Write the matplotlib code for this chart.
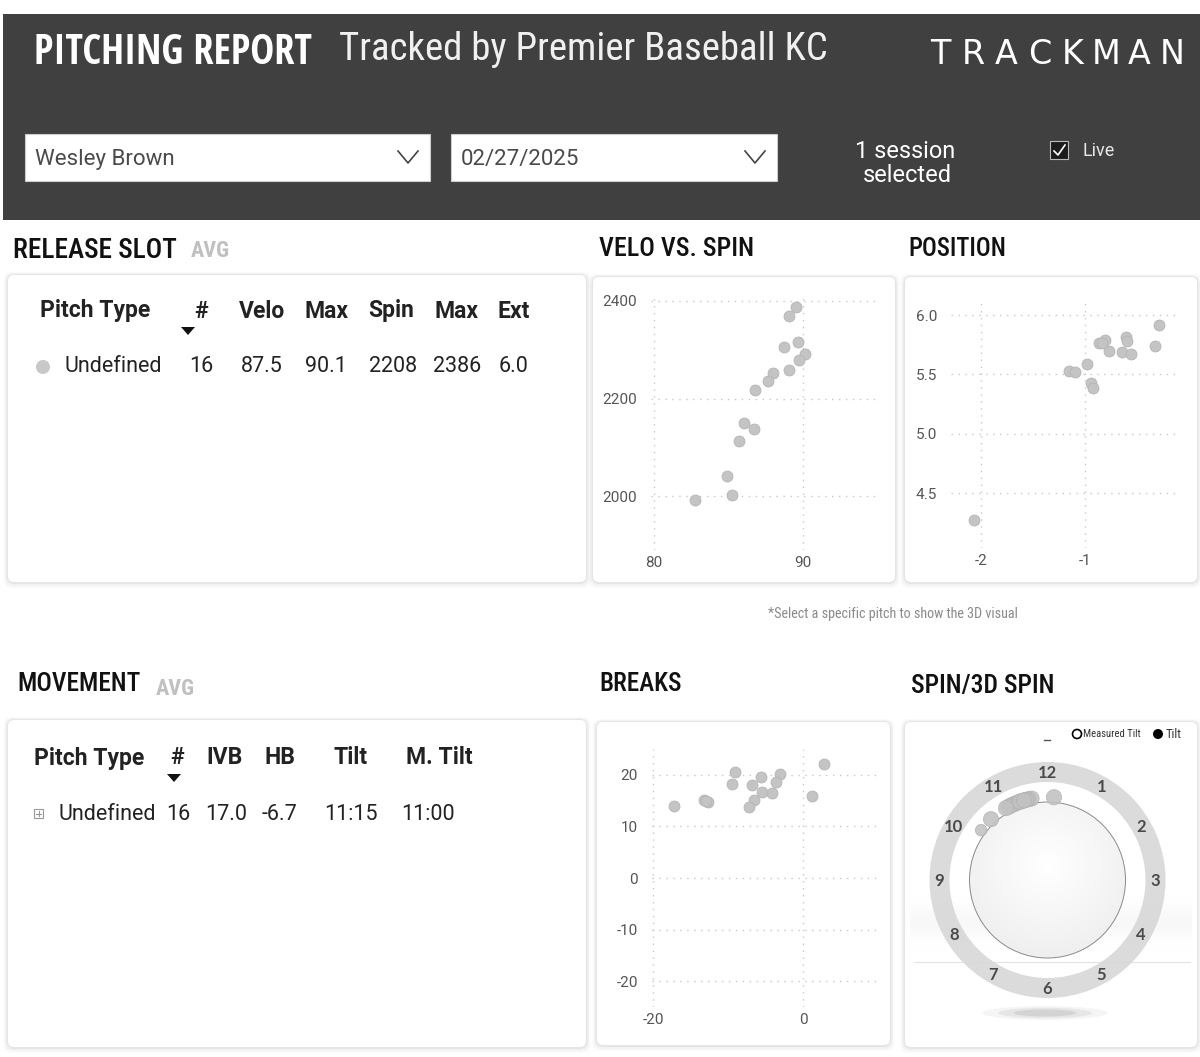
import numpy as np
import matplotlib
matplotlib.use('Agg')
import matplotlib.pyplot as plt
from matplotlib import font_manager as fm
from matplotlib.patches import Rectangle, FancyBboxPatch, Circle, Wedge, Ellipse, Polygon

plt.rcParams['axes.unicode_minus'] = False

W, H = 1200, 1057

# ---- data ----
player = 'Wesley Brown'
session_date = '02/27/2025'

release_cols = ['#', 'Velo', 'Max', 'Spin', 'Max', 'Ext']
release_row = ['16', '87.5', '90.1', '2208', '2386', '6.0']
movement_cols = ['#', 'IVB', 'HB', 'Tilt', 'M. Tilt']
movement_row = ['16', '17.0', '-6.7', '11:15', '11:00']

# velo vs spin
velo = [89.55, 89.1, 89.66, 88.74, 90.16, 89.78, 89.06, 88.0, 87.67, 86.79,
        86.08, 86.70, 85.70, 84.89, 85.25, 82.78]
spin = [2387, 2369, 2315, 2305, 2292, 2279, 2259, 2253, 2235, 2218,
        2150, 2137, 2113, 2042, 2003, 1992]

# release position (side, height)
rel_side = [-0.292, -0.333, -0.612, -0.603, -0.647, -0.558, -0.811, -0.865,
            -0.843, -0.772, -0.981, -1.154, -1.103, -0.946, -0.926, -2.067]
rel_height = [5.916, 5.737, 5.818, 5.782, 5.687, 5.675, 5.793, 5.765,
              5.762, 5.695, 5.589, 5.527, 5.519, 5.426, 5.387, 4.273]

# breaks (HB, IVB)
hb = [2.8, 1.16, -3.16, -3.69, -4.22, -5.6, -5.51, -6.8, -6.62, -7.29,
      -9.11, -9.51, -13.29, -12.76, -17.2, -13.0]
ivb = [22.07, 15.86, 20.13, 18.64, 16.50, 19.6, 16.76, 18.06, 15.21, 13.72,
       20.52, 18.19, 15.02, 14.69, 13.92, 14.85]

# spin tilt as clock time (hours)
tilt_hours = [12.15, 11.63, 11.55, 11.43, 11.38, 11.3, 11.23, 11.18, 11.12,
              11.07, 11.0, 11.5, 11.35, 11.45, 10.57, 10.23]

UI = ['Roboto', 'DejaVu Sans']

# candidate latin sans faces, split by weight
BASES = ('DejaVu Sans', 'Liberation Sans', 'Noto Sans', 'Roboto', 'Open Sans', 'Lato', 'Inter')


def ok_name(n):
    if n in BASES:
        return True
    return any(n.startswith(b) for b in BASES) and ('Condensed' in n or 'Narrow' in n)


def faces(lo, hi):
    out, seen = [], set()
    for f in fm.fontManager.ttflist:
        try:
            wt = int(f.weight)
        except (TypeError, ValueError):
            wt = 700 if 'bold' in str(f.weight) else 400
        if f.style == 'normal' and lo <= wt <= hi and ok_name(f.name) and f.fname not in seen:
            seen.add(f.fname)
            out.append(fm.FontProperties(fname=f.fname))
    return out


FACES = {'regular': faces(400, 400), 'medium': faces(500, 500), 'bold': faces(600, 800)}
if not FACES['regular']:
    FACES['regular'] = [fm.FontProperties(family='DejaVu Sans')]
if not FACES['medium']:
    FACES['medium'] = FACES['regular']
if not FACES['bold']:
    FACES['bold'] = [fm.FontProperties(family='DejaVu Sans', weight='bold')]

fig = plt.figure(figsize=(W / 100, H / 100), dpi=100)
fig.patch.set_facecolor('white')
bg = fig.add_axes([0, 0, 1, 1])
bg.set_xlim(0, W)
bg.set_ylim(H, 0)
bg.axis('off')
renderer = fig.canvas.get_renderer()


def fit_text(x, y, s, width, size, weight='regular', **kw):
    # pick the face whose natural width at this size is closest to the target width
    t = bg.text(x, y, s, **kw)
    best, bw = None, None
    for fp in FACES[weight]:
        t.set_fontproperties(fp)
        t.set_fontsize(size)
        w = t.get_window_extent(renderer).width
        if best is None or abs(w - width) < abs(bw - width):
            best, bw = fp, w
    t.set_fontproperties(best)
    t.set_fontsize(size * min(1.0, width / bw))
    return t


def pxaxes(l, t, r, b):
    return fig.add_axes([l / W, 1 - b / H, (r - l) / W, (b - t) / H])


def card(l, t, r, b):
    for k, a in zip([9, 6, 3], [0.02, 0.03, 0.05]):
        bg.add_patch(FancyBboxPatch((l - k / 2, t - k / 3), r - l + k, b - t + k,
                                    boxstyle='round,pad=0,rounding_size=8',
                                    fc='black', ec='none', alpha=a, zorder=1))
    bg.add_patch(FancyBboxPatch((l, t), r - l, b - t,
                                boxstyle='round,pad=0,rounding_size=6',
                                fc='white', ec='none', zorder=2))


# ---- header band ----
bg.add_patch(Rectangle((3, 14), W - 3, 206, fc='#404040', ec='none', zorder=1))
fit_text(34, 54, 'PITCHING REPORT', 279, 33, weight='bold', color='white', va='center',
         ha='left', zorder=3)
fit_text(339, 49, 'Tracked by Premier Baseball KC', 503, 28, color='#f0f0f0',
         va='center', ha='left', zorder=3)
for i, ch in enumerate('TRACKMAN'):
    bg.text(925 + 15 + i * 33.2, 54, ch, color='white', fontsize=24,
            family=['DejaVu Sans'], va='center', ha='center', zorder=3)

for (l, r), txt in zip([(25, 430), (451, 777)], [player, session_date]):
    bg.add_patch(Rectangle((l, 134), r - l, 47, fc='white', ec='#cccccc', lw=0.8, zorder=2))
    bg.text(l + 10, 160, txt, color='#4a4a4a', fontsize=16, family=UI,
            va='center', ha='left', zorder=3)
    bg.plot([r - 32, r - 22, r - 12], [151, 163, 151], color='#444444', lw=1.2, zorder=3)

bg.text(905, 151, '1 session', color='white', fontsize=17, family=UI,
        va='center', ha='center', zorder=3)
bg.text(907, 176, 'selected', color='white', fontsize=17, family=UI,
        va='center', ha='center', zorder=3)
bg.add_patch(Rectangle((1050, 141), 18, 18, fc='#1c1c1c', ec='#bbbbbb', lw=0.8, zorder=3))
bg.plot([1054, 1058, 1065], [151, 155, 145], color='white', lw=1.2, zorder=4)
bg.text(1082, 151, 'Live', color='#e8e8e8', fontsize=13, family=UI,
        va='center', ha='left', zorder=3)

# ---- cards ----
card(8, 275, 586, 582)
card(593, 277, 895, 582)
card(905, 277, 1197, 582)
card(8, 720, 586, 1047)
card(597, 722, 890, 1045)
card(905, 722, 1197, 1047)

# section titles (x, y, text, width in px)
titles = [(13, 251, 'RELEASE SLOT', 164), (599, 249, 'VELO VS. SPIN', 155),
          (908, 249, 'POSITION', 98), (17, 684, 'MOVEMENT', 123),
          (599, 684, 'BREAKS', 82), (911, 686, 'SPIN/3D SPIN', 144)]
for x, y, t, w in titles:
    fit_text(x, y, t, w, 28, weight='medium', color='#111111', va='center', ha='left', zorder=3)
fit_text(191, 251, 'AVG', 41, 16, weight='bold', color='#c0c0c0', va='center', ha='left', zorder=3)
fit_text(156, 689, 'AVG', 41, 16, weight='bold', color='#c0c0c0', va='center', ha='left', zorder=3)
fit_text(768, 614, '*Select a specific pitch to show the 3D visual', 250, 13,
         color='#8a8a8a', va='center', ha='left', zorder=3)

# ---- release slot table ----
bg.text(40, 311, 'Pitch Type', fontsize=16.5, fontweight='bold', family=UI,
        color='#222222', va='center', ha='left', zorder=3)
for cx, c in zip([201, 262, 326, 391, 456, 514], release_cols):
    bg.text(cx, 311, c, fontsize=16.5, fontweight='bold', family=UI, color='#222222',
            va='center', ha='center', zorder=3)
bg.add_patch(Polygon([(181, 327), (195, 327), (188, 335)], fc='#111111', ec='none', zorder=3))
bg.add_patch(Circle((43, 367), 7, fc='#c8c8c8', ec='none', zorder=3))
bg.text(64, 367, 'Undefined', fontsize=15.5, family=UI, color='#222222',
        va='center', ha='left', zorder=3)
for cx, v in zip([201, 262, 326, 393, 457, 514], release_row):
    bg.text(cx, 367, v, fontsize=15.5, family=UI, color='#222222',
            va='center', ha='center', zorder=3)

# ---- movement table ----
bg.text(34, 758, 'Pitch Type', fontsize=16.5, fontweight='bold', family=UI,
        color='#222222', va='center', ha='left', zorder=3)
for cx, c in zip([177, 225, 280, 351, 439], movement_cols):
    bg.text(cx, 758, c, fontsize=16.5, fontweight='bold', family=UI, color='#222222',
            va='center', ha='center', zorder=3)
bg.add_patch(Polygon([(167, 774), (181, 774), (174, 782)], fc='#111111', ec='none', zorder=3))
bg.add_patch(Rectangle((34, 809), 9, 9, fc='white', ec='#999999', lw=0.8, zorder=3))
bg.plot([36, 41], [813.5, 813.5], color='#999999', lw=0.8, zorder=4)
bg.plot([38.5, 38.5], [811, 816], color='#999999', lw=0.8, zorder=4)
bg.text(58, 814, 'Undefined', fontsize=15.5, family=UI, color='#222222',
        va='center', ha='left', zorder=3)
for cx, v in zip([178, 226, 280, 351, 428], movement_row):
    bg.text(cx, 814, v, fontsize=15.5, family=UI, color='#222222',
            va='center', ha='center', zorder=3)


# ---- scatter panels ----
def scatter_panel(box, x, y, xlim, ylim, xticks, yticks, yfmt):
    ax = pxaxes(*box)
    ax.set_facecolor('none')
    ax.scatter(x, y, s=62, color='#c4c4c4', edgecolors='#b4b4b4', linewidths=0.6, zorder=3)
    ax.set_xlim(*xlim)
    ax.set_ylim(*ylim)
    ax.set_xticks(xticks)
    ax.set_yticks(yticks)
    ax.set_yticklabels([yfmt.format(v) for v in yticks])
    ax.grid(True, color='#c8c8c8', linestyle=(0, (1, 4)), linewidth=1.0)
    for s in ax.spines.values():
        s.set_visible(False)
    ax.tick_params(length=0, colors='#555555', labelsize=11)
    ax.tick_params(axis='y', pad=10)
    ax.tick_params(axis='x', pad=4)
    for lab in ax.get_xticklabels() + ax.get_yticklabels():
        lab.set_family(UI)
    return ax


scatter_panel((651, 296, 877, 550), velo, spin, (79.8, 95), (1890, 2410),
              [80, 90], [2000, 2200, 2400], '{:d}')
scatter_panel((951, 302, 1177, 548), rel_side, rel_height, (-2.29, -0.12), (4.04, 6.11),
              [-2, -1], [4.5, 5.0, 5.5, 6.0], '{:.1f}')
scatter_panel((652, 749, 878, 1007), hb, ivb, (-20.2, 10), (-25, 25),
              [-20, 0], [-20, -10, 0, 10, 20], '{:d}')

# ---- spin clock ----
cx, cy = 1047.5, 880
yy = np.linspace(0, 1, 60)[:, None]
band = np.exp(-((yy - 0.5) / 0.3) ** 2) * np.ones((60, 2))
bg.imshow(band, extent=(910, 1192, 950, 895), cmap='Greys', vmin=0, vmax=18,
          aspect='auto', zorder=2.1)
bg.plot([915, 1190], [962, 962], color='#e2e2e2', lw=0.8, zorder=2.2)
for k, a in zip([1.0, 0.75, 0.5], [0.04, 0.06, 0.08]):
    bg.add_patch(Ellipse((1045, 1013), 125 * k, 14 * k, fc='black', ec='none', alpha=a, zorder=2.2))
bg.add_patch(Wedge((cx, cy), 118, 0, 360, width=20, fc='#d9d9d9', ec='none', alpha=0.95, zorder=2.3))
gx, gy = np.meshgrid(np.linspace(-1, 1, 200), np.linspace(-1, 1, 200))
shade = np.sqrt(gx ** 2 + (gy + 0.2) ** 2)
ball = bg.imshow(shade, extent=(cx - 78, cx + 78, cy + 78, cy - 78), cmap='Greys',
                 vmin=0, vmax=9, zorder=2.4, origin='upper')
ball.set_clip_path(Circle((cx, cy), 78, transform=bg.transData))
bg.add_patch(Circle((cx, cy), 78, fc='none', ec='#8a8a8a', lw=0.7, zorder=2.5))
bg.set_xlim(0, W)
bg.set_ylim(H, 0)
for hr in range(1, 13):
    th = np.deg2rad(hr * 30)
    bg.text(cx + 108 * np.sin(th), cy - 108 * np.cos(th) + 1, str(hr), fontsize=12,
            fontweight='bold', color='#4a4a4a', family=['Lato', 'DejaVu Sans'],
            va='center', ha='center', zorder=3)
th = np.deg2rad(np.array(tilt_hours) * 30)
sizes = [120] * 15 + [70]
bg.scatter(cx + 83 * np.sin(th), cy - 83 * np.cos(th), s=sizes, color='#c2c2c2',
           edgecolors='#b0b0b0', linewidths=0.5, alpha=0.9, zorder=3)
bg.plot([1044, 1050], [740, 740], color='#555555', lw=1, zorder=3)
bg.add_patch(Circle((1077, 734), 4.5, fc='white', ec='black', lw=1.2, zorder=3))
fit_text(1083, 734, 'Measured Tilt', 57, 12, color='#333333', va='center', ha='left', zorder=3)
bg.add_patch(Circle((1158, 734), 5, fc='black', ec='none', zorder=3))
fit_text(1166, 734, 'Tilt', 16, 12, color='#333333', va='center', ha='left', zorder=3)

fig.savefig('out.png', dpi=100, facecolor='white')
